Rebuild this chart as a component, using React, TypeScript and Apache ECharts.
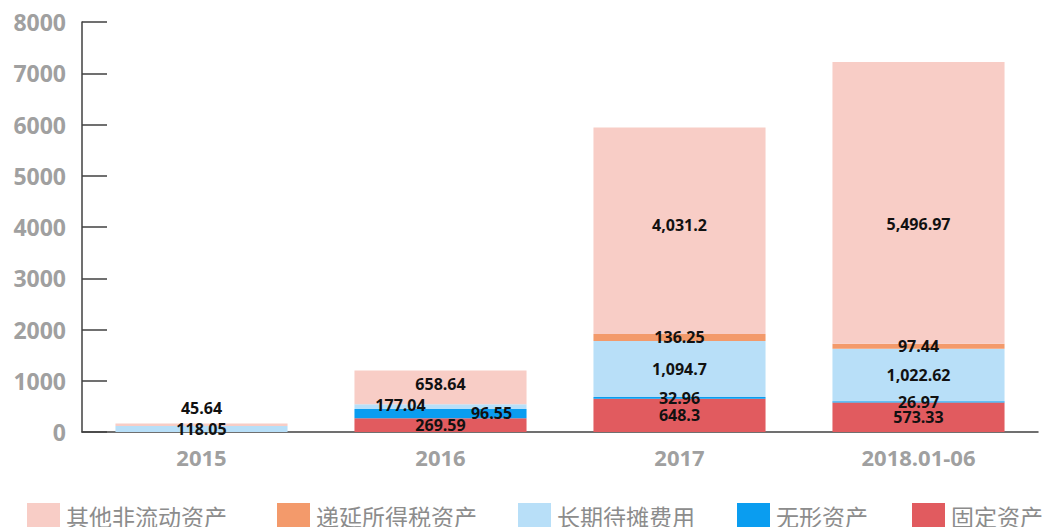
import React, { useEffect, useRef } from "react";
import * as echarts from "echarts";

const categories = ["2015", "2016", "2017", "2018.01-06"];
const seriesNames = ["固定资产", "无形资产", "长期待摊费用", "递延所得税资产", "其他非流动资产"];
const fixedAssets = [0, 269.59, 648.3, 573.33];
const intangibleAssets = [0, 177.04, 32.96, 26.97];
const longTermPrepaid = [118.05, 96.55, 1094.7, 1022.62];
const deferredTax = [0, 0, 136.25, 97.44];
const otherNonCurrent = [45.64, 658.64, 4031.2, 5496.97];
const legendOrder = ["其他非流动资产", "递延所得税资产", "长期待摊费用", "无形资产", "固定资产"];
const yTicks = { min: 0, max: 8000, interval: 1000 };

const colors = ["#E15B5F", "#0A9DF0", "#B8DFF8", "#F39A6B", "#F8CDC6"];
const legendLefts = [27, 277, 518, 737, 912];
// manual label nudges (seriesIndex-categoryIndex -> [dx, dy])
const labelNudges: Record<string, [number, number]> = {
  "4-0": [0, -17],
  "1-1": [-40, -9],
  "2-1": [51, 6],
  "4-1": [0, -3],
  "4-2": [0, -6],
  "4-3": [0, 21],
};

const fmt = (v: number) =>
  v.toLocaleString("en-US", { maximumFractionDigits: 2 });

export default function App() {
  const ref = useRef<HTMLDivElement>(null);
  useEffect(() => {
    if (!ref.current) return;
    const chart = echarts.init(ref.current, null, { renderer: "svg" });
    const allData = [fixedAssets, intangibleAssets, longTermPrepaid, deferredTax, otherNonCurrent];
    const font = "'Open Sans', 'Noto Sans CJK SC', sans-serif";
    chart.setOption({
      animation: false,
      textStyle: { fontFamily: font },
      grid: { left: 82, right: 10, top: 22, bottom: 95, containLabel: false },
      legend: legendOrder.map((name, i) => ({
        data: [name],
        left: legendLefts[i],
        top: 503,
        padding: 0,
        itemWidth: 33,
        itemHeight: 26,
        icon: "rect",
        textStyle: {
          fontSize: 23,
          color: "#8c8c8c",
          fontFamily: "'Noto Sans CJK SC', sans-serif",
          padding: [0, 0, 0, 1],
        },
      })),
      xAxis: {
        type: "category",
        data: categories,
        axisLine: { lineStyle: { color: "#404040", width: 1.5 } },
        axisTick: { inside: true, length: 9, lineStyle: { color: "#404040", width: 1.5 } },
        axisLabel: { color: "#a0a0a0", fontSize: 22, fontWeight: "bold", margin: 14, fontFamily: font },
      },
      yAxis: {
        type: "value",
        min: yTicks.min,
        max: yTicks.max,
        interval: yTicks.interval,
        splitLine: { show: false },
        axisLine: { show: true, lineStyle: { color: "#404040", width: 1.5 } },
        axisTick: { show: true, inside: true, length: 25, lineStyle: { color: "#404040", width: 1.5 } },
        axisLabel: {
          color: "#a0a0a0",
          fontSize: 23,
          fontWeight: "bold",
          margin: 16,
          fontFamily: font,
          formatter: (v: number) => String(v),
        },
      },
      series: seriesNames.map((name, si) => ({
        name,
        type: "bar",
        stack: "total",
        barCategoryGap: "28%",
        itemStyle: { color: colors[si] },
        data: allData[si].map((v, ci) => {
          const nudge = labelNudges[`${si}-${ci}`];
          return nudge ? { value: v, label: { offset: nudge } } : { value: v };
        }),
        label: {
          show: true,
          position: "inside",
          color: "#111",
          fontSize: 16,
          fontWeight: "bold",
          fontFamily: font,
          formatter: (p: any) => (p.value ? fmt(p.value) : ""),
        },
      })),
    });
    return () => chart.dispose();
  }, []);
  return (
    <div
      ref={ref}
      style={{ position: "fixed", left: 0, top: 0, width: 1048, height: 527, background: "#fff" }}
    />
  );
}
